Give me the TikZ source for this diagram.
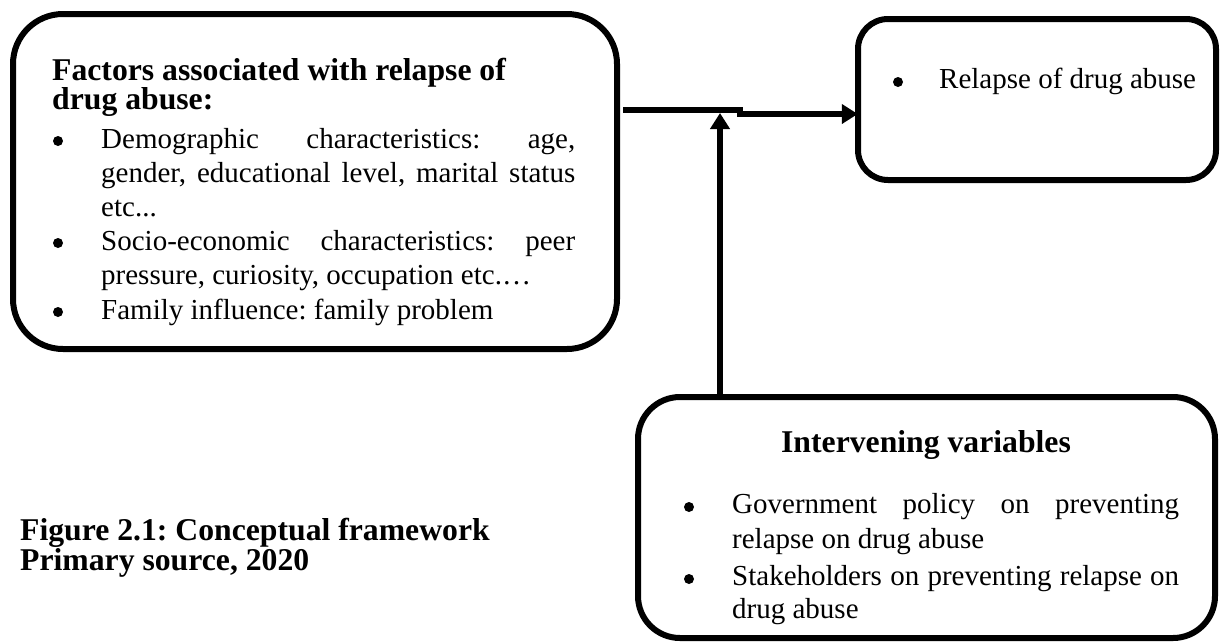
\documentclass[tikz,border=0pt]{standalone}
\usepackage{fontspec}
\setmainfont{Liberation Serif}
\usetikzlibrary{arrows.meta}
\frenchspacing
\tikzset{
  box/.style={draw=black, line width=6pt, rounded corners=#1},
  box/.default=45pt,
  txt/.style={inner sep=0pt, anchor=base west, font=\fontsize{29}{34}\selectfont},
  head/.style={inner sep=0pt, anchor=base west, font=\fontsize{31.7}{36}\selectfont\bfseries},
  dot/.style={circle, fill=black, inner sep=0pt, minimum size=10pt},
  conn/.style={line width=6pt},
  arr/.style={line width=6pt, -{Triangle[length=16pt,width=19pt]}}
}
\begin{document}
\begin{tikzpicture}[x=1pt,y=-1pt]
\useasboundingbox (0,0) rectangle (1220,643);
% boxes
\draw[box=50pt] (13,14) rectangle (617,349);
\node[inner sep=0pt, minimum width=604pt, minimum height=335pt] (L) at (315,181.5) {};
\draw[box=30pt] (858,19) rectangle (1216,180);
\node[inner sep=0pt, minimum width=358pt, minimum height=161pt] (R) at (1037,99.5) {};
\draw[box=42pt] (638,397) rectangle (1215,638);
\node[inner sep=0pt, minimum width=577pt, minimum height=241pt] (I) at (926.5,517.5) {};
% left box text
\node[head] (lt1) at (52,80) {Factors associated with relapse of};
\node[head] (lt2) at (52,109) {drug abuse:};
\node[dot] (lb1) at (58,141) {};
\node[txt] (l1) at (101,148) {\makebox[474pt][s]{Demographic characteristics: age,}};
\node[txt] (l2) at (101,182) {\makebox[474pt][s]{gender, educational level, marital status}};
\node[txt] (l3) at (101,216) {etc...};
\node[dot] (lb2) at (58,243) {};
\node[txt] (l4) at (101,250) {\makebox[474pt][s]{Socio-economic characteristics: peer}};
\node[txt] (l5) at (101,284) {pressure, curiosity, occupation etc.…};
\node[dot] (lb3) at (58,312) {};
\node[txt] (l6) at (101,319) {Family influence: family problem};
% right box text
\node[dot] (rb1) at (898,82) {};
\node[txt] (r1) at (939,88) {Relapse of drug abuse};
% intervening box text
\node[head, anchor=base] (it) at (926,452) {Intervening variables};
\node[dot] (ib1) at (689,507) {};
\node[txt] (i1) at (732,513) {\makebox[447pt][s]{Government policy on preventing}};
\node[txt] (i2) at (732,548) {relapse on drug abuse};
\node[dot] (ib2) at (689,579) {};
\node[txt] (i3) at (732,585) {\makebox[447pt][s]{Stakeholders on preventing relapse on}};
\node[txt] (i4) at (732,618) {drug abuse};
% caption
\node[head] (c1) at (20,540) {Figure 2.1: Conceptual framework};
\node[head] (c2) at (20,570) {Primary source, 2020};
% connectors
\coordinate (j1) at (743,110);
\coordinate (j2) at (737,114);
\coordinate (j3) at (720,113);
\draw[conn] ([xshift=6pt]L.east |- j1) -- (j1);
\draw[arr] (j2) -- (R.west |- j2);
\draw[arr] (I.north -| j3) -- (j3);
\end{tikzpicture}
\end{document}
